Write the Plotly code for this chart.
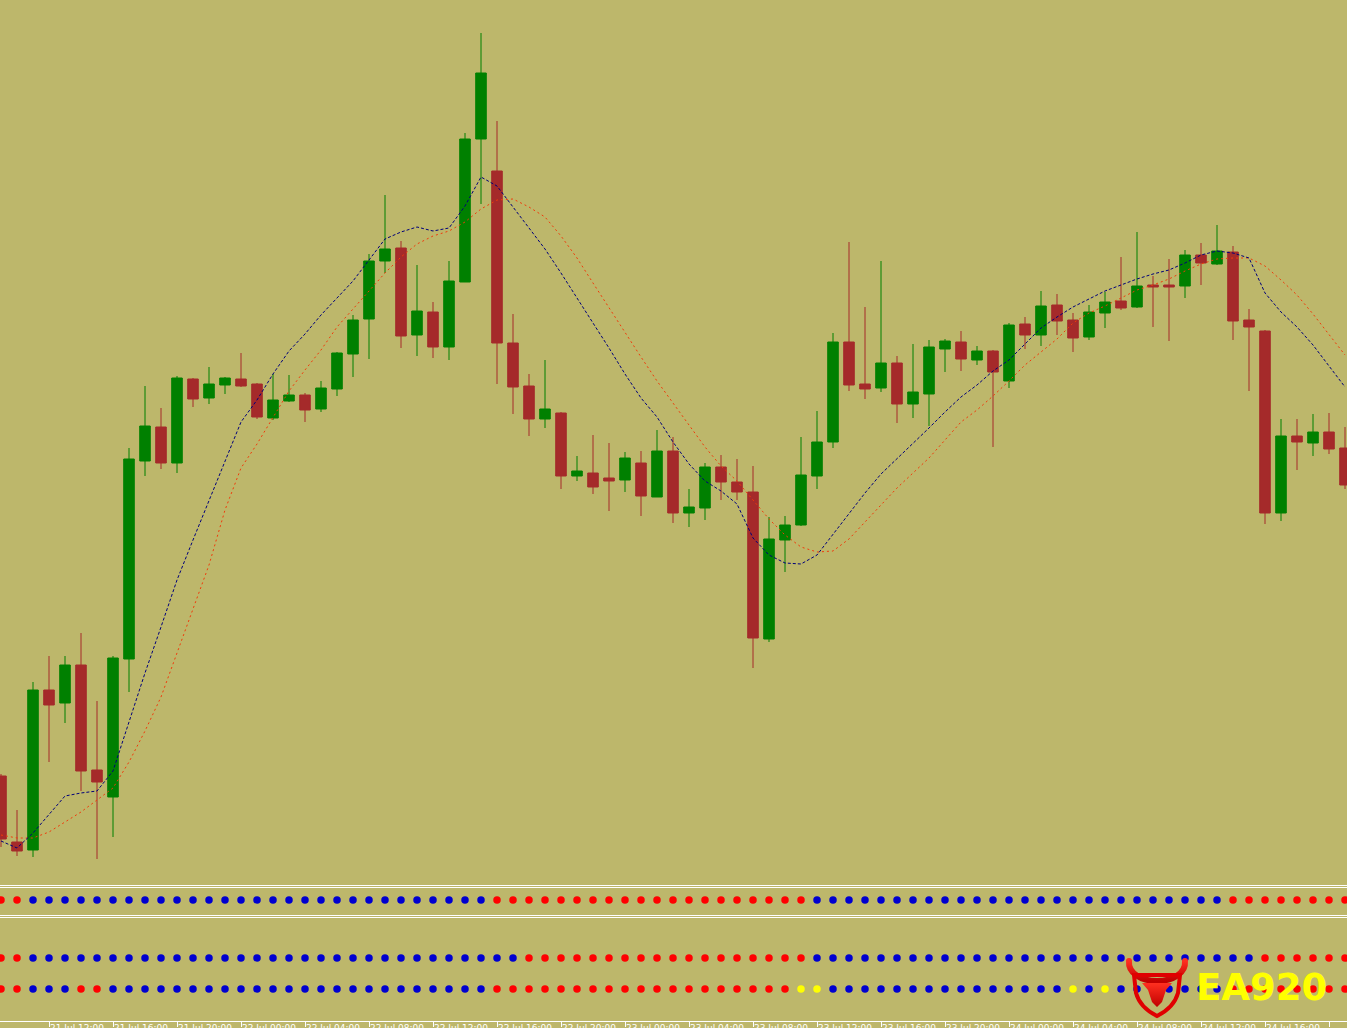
import base64
import plotly.graph_objects as go

# ---------------- data ----------------
bars = list(range(85))

open_ = [1.0224, 1.0158, 1.0150, 1.0310, 1.0297, 1.0335, 1.0230, 1.0203, 1.0341, 1.0539,
         1.0573, 1.0537, 1.0621, 1.0602, 1.0615, 1.0621, 1.0616, 1.0582, 1.0599, 1.0605,
         1.0591, 1.0611, 1.0646, 1.0681, 1.0739, 1.0752, 1.0665, 1.0688, 1.0653, 1.0718,
         1.0861, 1.0829, 1.0657, 1.0614, 1.0581, 1.0587, 1.0524, 1.0527, 1.0522, 1.0520,
         1.0537, 1.0503, 1.0549, 1.0487, 1.0492, 1.0533, 1.0518, 1.0508, 1.0361, 1.0460,
         1.0475, 1.0524, 1.0558, 1.0658, 1.0616, 1.0612, 1.0637, 1.0596, 1.0606, 1.0651,
         1.0658, 1.0640, 1.0649, 1.0619, 1.0676, 1.0665, 1.0695, 1.0680, 1.0663, 1.0687,
         1.0699, 1.0693, 1.0715, 1.0715, 1.0714, 1.0745, 1.0736, 1.0748, 1.0680, 1.0669,
         1.0487, 1.0564, 1.0557, 1.0568, 1.0552]

high = [1.0226, 1.0190, 1.0318, 1.0344, 1.0344, 1.0367, 1.0299, 1.0344, 1.0552, 1.0614,
        1.0592, 1.0624, 1.0622, 1.0633, 1.0623, 1.0647, 1.0617, 1.0626, 1.0625, 1.0607,
        1.0619, 1.0648, 1.0685, 1.0746, 1.0805, 1.0759, 1.0735, 1.0698, 1.0739, 1.0867,
        1.0967, 1.0879, 1.0686, 1.0626, 1.0640, 1.0588, 1.0544, 1.0565, 1.0557, 1.0548,
        1.0549, 1.0570, 1.0563, 1.0511, 1.0537, 1.0545, 1.0541, 1.0534, 1.0483, 1.0484,
        1.0563, 1.0589, 1.0667, 1.0758, 1.0693, 1.0739, 1.0644, 1.0656, 1.0660, 1.0661,
        1.0669, 1.0654, 1.0650, 1.0677, 1.0683, 1.0709, 1.0706, 1.0687, 1.0695, 1.0708,
        1.0743, 1.0768, 1.0724, 1.0741, 1.0750, 1.0757, 1.0775, 1.0754, 1.0691, 1.0670,
        1.0581, 1.0581, 1.0586, 1.0587, 1.0573]

low = [1.0153, 1.0144, 1.0143, 1.0238, 1.0277, 1.0209, 1.0141, 1.0163, 1.0308, 1.0524,
       1.0531, 1.0527, 1.0593, 1.0596, 1.0606, 1.0613, 1.0581, 1.0580, 1.0598, 1.0578,
       1.0588, 1.0604, 1.0623, 1.0641, 1.0727, 1.0652, 1.0644, 1.0642, 1.0640, 1.0718,
       1.0796, 1.0616, 1.0586, 1.0564, 1.0572, 1.0511, 1.0519, 1.0506, 1.0489, 1.0508,
       1.0484, 1.0503, 1.0477, 1.0473, 1.0480, 1.0500, 1.0500, 1.0332, 1.0358, 1.0428,
       1.0474, 1.0511, 1.0552, 1.0609, 1.0601, 1.0608, 1.0577, 1.0582, 1.0574, 1.0628,
       1.0629, 1.0635, 1.0553, 1.0612, 1.0651, 1.0654, 1.0665, 1.0648, 1.0660, 1.0672,
       1.0690, 1.0692, 1.0673, 1.0659, 1.0702, 1.0715, 1.0735, 1.0660, 1.0609, 1.0476,
       1.0479, 1.0530, 1.0544, 1.0546, 1.0511]

close = [1.0161, 1.0149, 1.0310, 1.0295, 1.0335, 1.0229, 1.0218, 1.0342, 1.0541, 1.0574,
         1.0537, 1.0622, 1.0601, 1.0616, 1.0622, 1.0614, 1.0583, 1.0600, 1.0605, 1.0590,
         1.0612, 1.0647, 1.0680, 1.0739, 1.0751, 1.0664, 1.0689, 1.0653, 1.0719, 1.0861,
         1.0927, 1.0657, 1.0613, 1.0581, 1.0591, 1.0524, 1.0529, 1.0513, 1.0519, 1.0542,
         1.0504, 1.0549, 1.0487, 1.0493, 1.0533, 1.0518, 1.0508, 1.0362, 1.0461, 1.0475,
         1.0525, 1.0558, 1.0658, 1.0615, 1.0611, 1.0637, 1.0596, 1.0608, 1.0653, 1.0659,
         1.0641, 1.0649, 1.0628, 1.0675, 1.0665, 1.0694, 1.0679, 1.0662, 1.0688, 1.0698,
         1.0692, 1.0714, 1.0713, 1.0713, 1.0745, 1.0737, 1.0749, 1.0679, 1.0673, 1.0487,
         1.0564, 1.0558, 1.0568, 1.0551, 1.0515]

ma_fast = [1.0159, 1.0152, 1.0167, 1.0185, 1.0204, 1.0207, 1.0209, 1.0229, 1.0278, 1.0327,
           1.0373, 1.0420, 1.0460, 1.0500, 1.0540, 1.0578, 1.0600, 1.0626, 1.0649, 1.0666,
           1.0685, 1.0702, 1.0719, 1.0740, 1.0761, 1.0768, 1.0773, 1.0769, 1.0772, 1.0794,
           1.0823, 1.0814, 1.0793, 1.0773, 1.0751, 1.0727, 1.0702, 1.0678, 1.0652, 1.0626,
           1.0602, 1.0583, 1.0558, 1.0536, 1.0519, 1.0509, 1.0496, 1.0462, 1.0445, 1.0437,
           1.0436, 1.0445, 1.0466, 1.0487, 1.0507, 1.0526, 1.0541, 1.0557, 1.0572, 1.0588,
           1.0603, 1.0615, 1.0629, 1.0640, 1.0656, 1.0672, 1.0683, 1.0693, 1.0701, 1.0709,
           1.0715, 1.0721, 1.0726, 1.0730, 1.0737, 1.0745, 1.0749, 1.0747, 1.0742, 1.0707,
           1.0688, 1.0673, 1.0655, 1.0634, 1.0613]

ma_slow = [1.0165, 1.0162, 1.0162, 1.0168, 1.0178, 1.0188, 1.0200, 1.0212, 1.0238, 1.0269,
           1.0303, 1.0347, 1.0390, 1.0435, 1.0490, 1.0532, 1.0556, 1.0582, 1.0609, 1.0630,
           1.0650, 1.0673, 1.0691, 1.0709, 1.0727, 1.0743, 1.0756, 1.0764, 1.0769, 1.0778,
           1.0791, 1.0800, 1.0801, 1.0793, 1.0783, 1.0764, 1.0742, 1.0717, 1.0692, 1.0667,
           1.0643, 1.0619, 1.0597, 1.0575, 1.0553, 1.0534, 1.0519, 1.0500, 1.0481, 1.0465,
           1.0453, 1.0448, 1.0449, 1.0461, 1.0478, 1.0494, 1.0512, 1.0527, 1.0542, 1.0560,
           1.0578, 1.0590, 1.0604, 1.0619, 1.0635, 1.0648, 1.0661, 1.0677, 1.0687, 1.0694,
           1.0702, 1.0710, 1.0715, 1.0721, 1.0729, 1.0736, 1.0741, 1.0742, 1.0742, 1.0734,
           1.0720, 1.0705, 1.0686, 1.0666, 1.0645]

# signal rows of the indicator windows: R = red, B = blue, Y = yellow
signal_row1 = "RRBBBBBBBBBBBBBBBBBBBBBBBBBBBBBRRRRRRRRRRRRRRRRRRRRBBBBBBBBBBBBBBBBBBBBBBBBBBRRRRRRRR"
signal_row2 = "RRBBBBBBBBBBBBBBBBBBBBBBBBBBBBBBBRRRRRRRRRRRRRRRRRRBBBBBBBBBBBBBBBBBBBBBBBBBBBBRRRRRR"
signal_row3 = "RRBBBRRBBBBBBBBBBBBBBBBBBBBBBBBRRRRRRRRRRRRRRRRRRRYYBBBBBBBBBBBBBBBYBYBBBBBBBRRRRRRRR"

tick_bars = [3, 7, 11, 15, 19, 23, 27, 31, 35, 39, 43, 47, 51, 55, 59, 63, 67, 71, 75, 79, 83]
tick_labels = ["21 Jul 12:00", "21 Jul 16:00", "21 Jul 20:00", "22 Jul 00:00", "22 Jul 04:00",
               "22 Jul 08:00", "22 Jul 12:00", "22 Jul 16:00", "22 Jul 20:00", "23 Jul 00:00",
               "23 Jul 04:00", "23 Jul 08:00", "23 Jul 12:00", "23 Jul 16:00", "23 Jul 20:00",
               "24 Jul 00:00", "24 Jul 04:00", "24 Jul 08:00", "24 Jul 12:00", "24 Jul 16:00",
               "24 Jul 20:00"]

# ---------------- styling ----------------
BG = "#BDB76B"
UP = "#008000"
DOWN = "#A52A2A"
DOT_COLORS = {"R": "#FF0000", "B": "#0000D0", "Y": "#FFFF00"}

W, H = 1347, 1028
PLOT_H = 1021  # plot area height (bottom margin 7)


def py2paper(py):
    return (PLOT_H - py) / PLOT_H


fig = go.Figure()

fig.add_trace(go.Candlestick(
    x=bars, open=open_, high=high, low=low, close=close,
    increasing=dict(line=dict(color=UP, width=1), fillcolor=UP),
    decreasing=dict(line=dict(color=DOWN, width=1), fillcolor=DOWN),
    whiskerwidth=0, hoverinfo="skip", showlegend=False,
    xaxis="x", yaxis="y",
))

fig.add_trace(go.Scatter(
    x=bars, y=ma_slow, mode="lines",
    line=dict(color="#F03A0A", width=1, dash="2px,3px"),
    hoverinfo="skip", showlegend=False, xaxis="x", yaxis="y",
))
fig.add_trace(go.Scatter(
    x=bars, y=ma_fast, mode="lines",
    line=dict(color="#00007A", width=1, dash="3px,2px"),
    hoverinfo="skip", showlegend=False, xaxis="x", yaxis="y",
))

# indicator window 1
fig.add_trace(go.Scatter(
    x=bars, y=[0.536] * len(bars), mode="markers",
    marker=dict(size=7.5, color=[DOT_COLORS[c] for c in signal_row1], line=dict(width=0)),
    hoverinfo="skip", showlegend=False, xaxis="x", yaxis="y2",
))
# indicator window 2 (two rows)
fig.add_trace(go.Scatter(
    x=bars, y=[2] * len(bars), mode="markers",
    marker=dict(size=7.5, color=[DOT_COLORS[c] for c in signal_row2], line=dict(width=0)),
    hoverinfo="skip", showlegend=False, xaxis="x", yaxis="y3",
))
fig.add_trace(go.Scatter(
    x=bars, y=[1] * len(bars), mode="markers",
    marker=dict(size=7.5, color=[DOT_COLORS[c] for c in signal_row3], line=dict(width=0)),
    hoverinfo="skip", showlegend=False, xaxis="x", yaxis="y3",
))

hidden = dict(showgrid=False, zeroline=False, showticklabels=False, showline=False,
              ticks="", fixedrange=True, automargin=False)

fig.update_layout(
    width=W, height=H,
    margin=dict(l=0, r=0, t=0, b=H - PLOT_H, pad=0, autoexpand=False),
    paper_bgcolor=BG, plot_bgcolor=BG,
    showlegend=False,
    boxgap=0.34, boxgroupgap=0,
    xaxis=dict(
        range=[-0.0625, 84.125], anchor="y3", showgrid=False, zeroline=False,
        showline=True, linecolor="#FFFFFF", linewidth=1,
        ticks="outside", ticklen=5, tickcolor="#FFFFFF", tickwidth=1,
        tickvals=tick_bars, ticktext=tick_labels,
        tickfont=dict(family="DejaVu Sans", size=9, color="#FFFFFF"),
        ticklabelposition="outside right", ticklabelstandoff=-2,
        automargin=False,
        rangeslider=dict(visible=False), fixedrange=True,
    ),
    yaxis=dict(domain=[py2paper(884), 1], range=[1.0116, 1.1000], anchor="x", **hidden),
    yaxis2=dict(domain=[py2paper(915), py2paper(887)], range=[0, 1], anchor="x", **hidden),
    yaxis3=dict(domain=[0, py2paper(917)], range=[-0.032, 3.323], anchor="x", **hidden),
)

# window separators (double white lines)
for py in (885.5, 887.5, 915.5, 917.5):
    yp = py2paper(py)
    fig.add_shape(type="line", xref="paper", yref="paper", x0=0, x1=1, y0=yp, y1=yp,
                  line=dict(color="#FFFFFF", width=1), layer="above")

# EA920 logo
logo_svg = """<svg xmlns='http://www.w3.org/2000/svg' width='64' height='62' viewBox='0 0 64 62'>
<defs><linearGradient id='g' x1='0' y1='0' x2='0' y2='1'>
<stop offset='0' stop-color='#ff3020'/><stop offset='1' stop-color='#c00000'/></linearGradient></defs>
<path d='M4,4 C3,16 16,24 32,24 C48,24 61,16 60,4' fill='none' stroke='url(#g)' stroke-width='6' stroke-linecap='round'/>
<path d='M9,18 L55,18 L53,36 C50,47 42,54 32,59 C22,54 14,47 11,36 Z' fill='none' stroke='#e00000' stroke-width='4'/>
<path d='M17,26 L47,26 L41,33 L37,45 L32,50 L27,45 L23,33 Z' fill='url(#g)'/>
</svg>"""
logo_src = "data:image/svg+xml;base64," + base64.b64encode(logo_svg.encode()).decode()
fig.add_layout_image(dict(
    source=logo_src, xref="paper", yref="paper",
    x=1125 / W, y=py2paper(957), sizex=64 / W, sizey=62 / PLOT_H,
    xanchor="left", yanchor="top", sizing="stretch", layer="above",
))
fig.add_annotation(
    text="<b>EA920</b>", xref="paper", yref="paper",
    x=1194 / W, y=py2paper(987), xanchor="left", yanchor="middle",
    showarrow=False,
    font=dict(family="DejaVu Sans", size=37, color="#FFFF00"),
)

fig.write_html(
    "out.html",
    config={"displayModeBar": False, "staticPlot": True},
    post_script="document.body.style.margin='0';document.body.style.overflow='hidden';",
)
